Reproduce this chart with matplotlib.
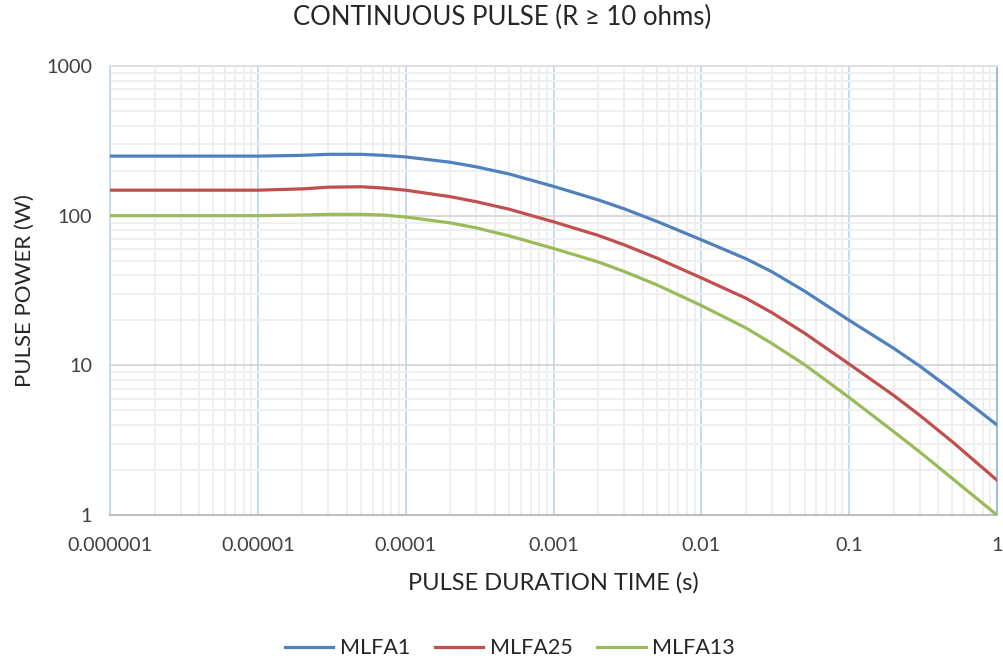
import matplotlib
matplotlib.use("Agg")
import matplotlib.pyplot as plt
from matplotlib.ticker import LogLocator, FixedLocator, NullFormatter

# pulse duration (s) and pulse power (W)
duration = [1e-6, 3e-6, 1e-5, 2e-5, 3e-5, 5e-5, 7e-5, 1e-4,
            2e-4, 3e-4, 5e-4, 1e-3, 2e-3, 3e-3, 5e-3, 1e-2,
            2e-2, 3e-2, 5e-2, 0.1, 0.2, 0.3, 0.5, 1.0]
mlfa1 = [250, 250, 250, 253, 257, 257, 253, 247,
         227.5, 212, 190, 157, 127.6, 111.2, 91.6, 69,
         51.6, 42.2, 31.3, 20, 13.0, 9.9, 6.8, 4.0]
mlfa25 = [148, 148, 148, 151, 155, 156, 153, 148,
          134, 124, 110.5, 91, 73.9, 63.9, 52.1, 38.4,
          28.1, 22.5, 16.4, 10.2, 6.3, 4.64, 3.08, 1.71]
mlfa13 = [100, 100, 100, 101, 102, 102, 101, 98,
          89.5, 82.9, 73.3, 60.4, 49.1, 42.4, 34.5, 25.1,
          17.8, 14.0, 10.1, 6.1, 3.61, 2.64, 1.75, 1.0]

x_ticks = [1e-6, 1e-5, 1e-4, 1e-3, 1e-2, 1e-1, 1]
x_labels = ["0.000001", "0.00001", "0.0001", "0.001", "0.01", "0.1", "1"]
y_ticks = [1, 10, 100, 1000]
y_labels = ["1", "10", "100", "1000"]

plt.rcParams['font.family'] = ['Lato', 'DejaVu Sans']

fig = plt.figure(figsize=(10.04, 6.64), dpi=100)
ax = fig.add_axes([0.1096, 0.2244, 0.8834, 0.6762])

ax.plot(duration, mlfa1, color='#4F81BD', lw=2.3, label='MLFA1', zorder=3)
ax.plot(duration, mlfa25, color='#C0504D', lw=2.3, label='MLFA25', zorder=3)
ax.plot(duration, mlfa13, color='#9BBB59', lw=2.3, label='MLFA13', zorder=3)

ax.set_xscale('log')
ax.set_yscale('log')
ax.set_xlim(1e-6, 1)
ax.set_ylim(1, 1000)

ax.xaxis.set_major_locator(FixedLocator(x_ticks))
ax.set_xticklabels(x_labels)
ax.yaxis.set_major_locator(FixedLocator(y_ticks))
ax.set_yticklabels(y_labels)
ax.xaxis.set_minor_locator(LogLocator(base=10, subs=range(2, 10), numticks=20))
ax.yaxis.set_minor_locator(LogLocator(base=10, subs=range(2, 10), numticks=20))
ax.xaxis.set_minor_formatter(NullFormatter())
ax.yaxis.set_minor_formatter(NullFormatter())

ax.grid(which='minor', color='#efefef', lw=1.4, zorder=0)
ax.grid(which='major', axis='x', color='#c5d9f1', lw=1.4, zorder=1)
ax.grid(which='major', axis='y', color='#d9d9d9', lw=1.4, zorder=1)
ax.set_axisbelow(True)

ax.tick_params(which='both', length=0, labelsize=14.2, colors='#404040')
ax.tick_params(axis='x', pad=16)
ax.tick_params(axis='y', pad=13)

ax.spines['bottom'].set_color('#bfbfbf')
ax.spines['bottom'].set_linewidth(1.5)
ax.spines['left'].set_color('#c5d9f1')
ax.spines['left'].set_linewidth(1.4)
ax.spines['right'].set_color('#9dbbe3')
ax.spines['right'].set_linewidth(1.4)
ax.spines['top'].set_color('#e0e0e0')
ax.spines['top'].set_linewidth(1.4)

ax.set_xlabel("PULSE DURATION TIME (s)", fontsize=17, color='#262626', labelpad=13)
ax.set_ylabel("PULSE POWER (W)", fontsize=16, color='#262626', labelpad=8)
fig.text(0.5, 0.973, "CONTINUOUS PULSE (R ≥ 10 ohms)", fontsize=18.5,
         color='#262626', ha='center', va='center')

fig.legend(loc='center', bbox_to_anchor=(0.508, 0.024), ncol=3, frameon=False,
           fontsize=15.5, handlelength=2.25, handletextpad=0.3, columnspacing=1.15,
           labelcolor='#262626')

fig.savefig('out.png', dpi=100)
